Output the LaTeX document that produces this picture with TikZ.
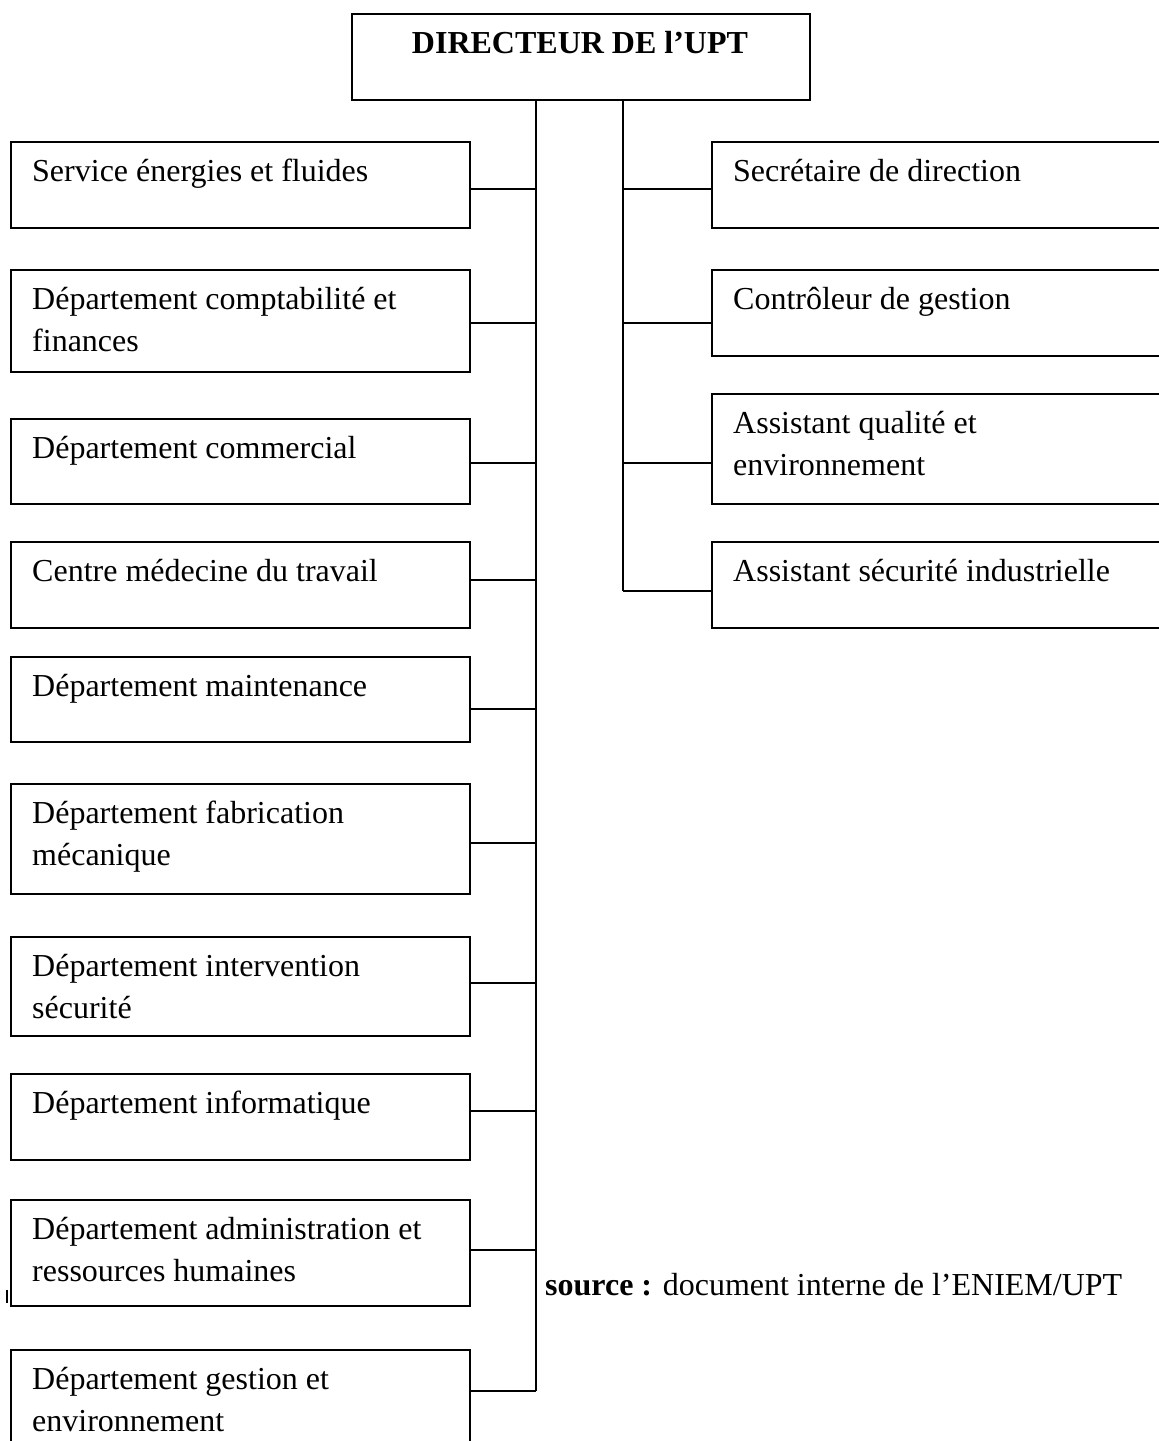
\documentclass[tikz,border=0pt]{standalone}
\usepackage{fontspec}
\setmainfont{Liberation Serif}
\begin{document}
\begin{tikzpicture}[x=1pt,y=-1pt,
  box/.style={draw=black, line width=2pt, rectangle, inner sep=0pt, anchor=north west, minimum width=459pt},
  rbox/.style={box, minimum width=480pt},
  txt/.style={font=\fontsize{32}{42}\selectfont, inner sep=0pt, anchor=north west, align=left},
  conn/.style={draw=black, line width=2pt}]
\clip (0,0) rectangle (1159,1441);
\fill[white] (0,0) rectangle (1159,1441);

% director
\node[box, minimum width=458pt, minimum height=86pt] (D) at (351,13) {};
\node[txt, anchor=north, font=\fontsize{32}{42}\selectfont\bfseries] (Dt) at (580,23.4) {\strut DIRECTEUR DE l’UPT};

% left boxes
\node[box, minimum height=86pt]  (L1)  at (10,141)  {};
\node[box, minimum height=102pt] (L2)  at (10,269)  {};
\node[box, minimum height=85pt]  (L3)  at (10,418)  {};
\node[box, minimum height=86pt]  (L4)  at (10,541)  {};
\node[box, minimum height=85pt]  (L5)  at (10,656)  {};
\node[box, minimum height=110pt] (L6)  at (10,783)  {};
\node[box, minimum height=99pt]  (L7)  at (10,936)  {};
\node[box, minimum height=86pt]  (L8)  at (10,1073) {};
\node[box, minimum height=106pt] (L9)  at (10,1199) {};
\node[box, minimum height=130pt] (L10) at (10,1349) {};

\node[txt] (T1)  at ([shift={(22,10.6)}]L1.north west)  {\strut Service énergies et fluides};
\node[txt] (T2)  at ([shift={(22,10.6)}]L2.north west)  {\strut Département comptabilité et\\\strut finances};
\node[txt] (T3)  at ([shift={(22,10.6)}]L3.north west)  {\strut Département commercial};
\node[txt] (T4)  at ([shift={(22,10.6)}]L4.north west)  {\strut Centre médecine du travail};
\node[txt] (T5)  at ([shift={(22,10.6)}]L5.north west)  {\strut Département maintenance};
\node[txt] (T6)  at ([shift={(22,10.6)}]L6.north west)  {\strut Département fabrication\\\strut mécanique};
\node[txt] (T7)  at ([shift={(22,10.6)}]L7.north west)  {\strut Département intervention\\\strut sécurité};
\node[txt] (T8)  at ([shift={(22,10.6)}]L8.north west)  {\strut Département informatique};
\node[txt] (T9)  at ([shift={(22,10.6)}]L9.north west)  {\strut Département administration et\\\strut ressources humaines};
\node[txt] (T10) at ([shift={(22,10.6)}]L10.north west) {\strut Département gestion et\\\strut environnement};

% right boxes
\node[rbox, minimum height=86pt]  (R1) at (711,141) {};
\node[rbox, minimum height=86pt]  (R2) at (711,269) {};
\node[rbox, minimum height=110pt] (R3) at (711,393) {};
\node[rbox, minimum height=86pt]  (R4) at (711,541) {};

\node[txt] (U1) at ([shift={(22,10.6)}]R1.north west) {\strut Secrétaire de direction};
\node[txt] (U2) at ([shift={(22,10.6)}]R2.north west) {\strut Contrôleur de gestion};
\node[txt] (U3) at ([shift={(22,10.6)}]R3.north west) {\strut Assistant qualité et\\\strut environnement};
\node[txt] (U4) at ([shift={(22,10.6)}]R4.north west) {\strut Assistant sécurité industrielle};

% spines
\coordinate (a1) at (536,189);
\coordinate (a2) at (536,323);
\coordinate (a3) at (536,463);
\coordinate (a4) at (536,580);
\coordinate (a5) at (536,709);
\coordinate (a6) at (536,843);
\coordinate (a7) at (536,983);
\coordinate (a8) at (536,1111);
\coordinate (a9) at (536,1250);
\coordinate (a10) at (536,1391);
\coordinate (b1) at (623,189);
\coordinate (b2) at (623,323);
\coordinate (b3) at (623,463);
\coordinate (b4) at (623,591);

\draw[conn] (D.south -| a1) -- (a10);
\draw[conn] (D.south -| b1) -- (b4);
\foreach \i in {1,...,10} {
  \draw[conn] (L\i.east |- a\i) -- (a\i);
}
\foreach \i in {1,...,4} {
  \draw[conn] (b\i) -- (R\i.west |- b\i);
}

% stray tick
\draw[line width=1.5pt] (7,1290) -- (7,1303);

% source
\node[txt, anchor=base west] (src) at (545,1295) {\textbf{source :} document interne de l’ENIEM/UPT};
\end{tikzpicture}
\end{document}
